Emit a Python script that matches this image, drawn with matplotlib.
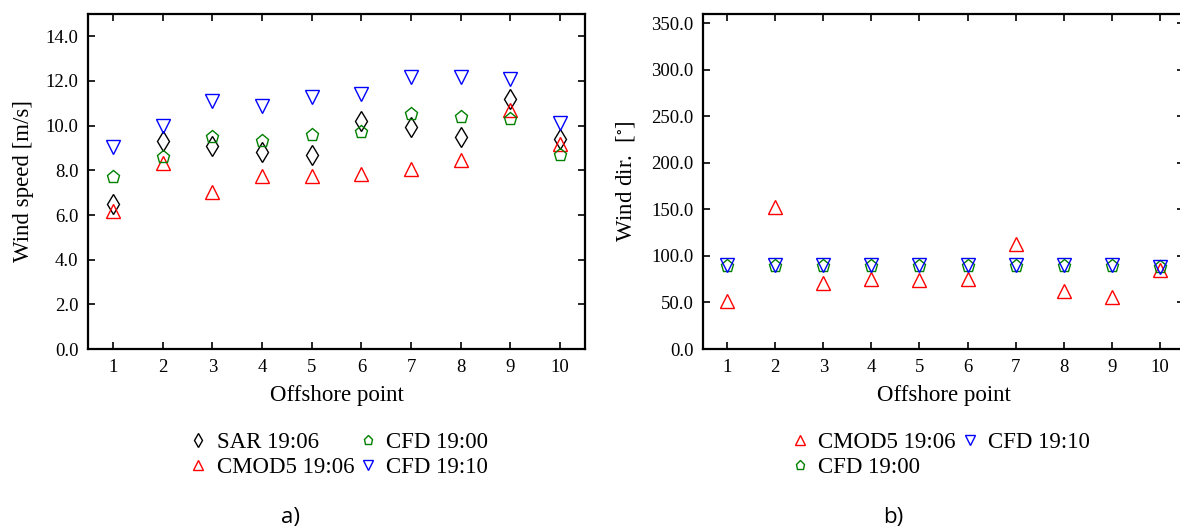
import numpy as np
import matplotlib
matplotlib.use("Agg")
import matplotlib.pyplot as plt

plt.rcParams['font.family'] = ['Liberation Serif', 'DejaVu Serif']
plt.rcParams['mathtext.fontset'] = 'stix'

# offshore points
points = np.arange(1, 11)

# wind speed [m/s]
sar_speed = [6.5, 9.3, 9.1, 8.8, 8.7, 10.2, 9.95, 9.5, 11.2, 9.4]
cmod5_speed = [6.2, 8.35, 7.05, 7.75, 7.75, 7.85, 8.05, 8.45, 10.7, 9.2]
cfd1900_speed = [7.7, 8.6, 9.5, 9.3, 9.6, 9.7, 10.5, 10.4, 10.3, 8.7]
cfd1910_speed = [9.05, 10.0, 11.1, 10.9, 11.3, 11.4, 12.2, 12.2, 12.1, 10.1]

# wind direction [deg]
cmod5_dir = [52, 153, 71, 75, 74, 75, 113, 62, 56, 85]
cfd1900_dir = [89, 89, 89, 89, 89, 89, 89, 89, 89, 88]
cfd1910_dir = [90, 90, 90, 90, 90, 90, 90, 90, 90, 88]

fig = plt.figure(figsize=(11.8, 5.31), dpi=100)
ax1 = fig.add_axes([0.0746, 0.3427, 0.4212, 0.631])
ax2 = fig.add_axes([0.5958, 0.3427, 0.4076, 0.631])

ms = 9.5
kw = dict(linestyle='none', markerfacecolor='none', markeredgewidth=1.0)

ax1.plot(points, sar_speed, marker='d', markersize=10, color='black', label='SAR 19:06', **kw)
ax1.plot(points, cmod5_speed, marker='^', markersize=ms, color='red', label='CMOD5 19:06', **kw)
ax1.plot(points, cfd1900_speed, marker='p', markersize=ms, color='green', label='CFD 19:00', **kw)
ax1.plot(points, cfd1910_speed, marker='v', markersize=ms, color='blue', label='CFD 19:10', **kw)

ax2.plot(points, cmod5_dir, marker='^', markersize=ms, color='red', label='CMOD5 19:06', **kw)
ax2.plot(points, cfd1900_dir, marker='p', markersize=ms, color='green', label='CFD 19:00', **kw)
ax2.plot(points, cfd1910_dir, marker='v', markersize=ms, color='blue', label='CFD 19:10', **kw)

ax1.set_ylim(0, 15)
ax1.set_yticks(np.arange(0, 15, 2))
ax1.set_yticklabels([f"{v:.1f}" for v in np.arange(0, 15, 2)])
ax1.set_ylabel("Wind speed [m/s]", fontsize=16.5, labelpad=8)

ax2.set_ylim(0, 360)
ax2.set_yticks(np.arange(0, 351, 50))
ax2.set_yticklabels([f"{v:.1f}" for v in np.arange(0, 351, 50)])
ax2.set_ylabel(r"Wind dir.  [$^{\circ}$]", fontsize=16.5, labelpad=10)

for ax in (ax1, ax2):
    ax.set_xlim(0.5, 10.5)
    ax.set_xticks(points)
    ax.set_xlabel("Offshore point", fontsize=16.5, labelpad=7)
    ax.tick_params(direction='in', top=True, right=True, length=5, width=1.2,
                   labelsize=13.5, pad=7)
    for s in ax.spines.values():
        s.set_linewidth(1.6)

leg1 = fig.legend(*ax1.get_legend_handles_labels(), loc='center',
                  bbox_to_anchor=(0.287, 0.143), ncol=2, frameon=False,
                  fontsize=16.5, markerscale=0.7, handlelength=0.8,
                  handletextpad=0.4, columnspacing=0.2, labelspacing=0.15)
leg2 = fig.legend(*ax2.get_legend_handles_labels(), loc='center',
                  bbox_to_anchor=(0.797, 0.143), ncol=2, frameon=False,
                  fontsize=16.5, markerscale=0.7, handlelength=0.8,
                  handletextpad=0.4, columnspacing=0.2, labelspacing=0.15)

fig.text(0.246, 0.026, "a)", fontsize=16, family='Open Sans', ha='center', va='center')
fig.text(0.757, 0.026, "b)", fontsize=16, family='Open Sans', ha='center', va='center')

fig.savefig("out.png", dpi=100)
